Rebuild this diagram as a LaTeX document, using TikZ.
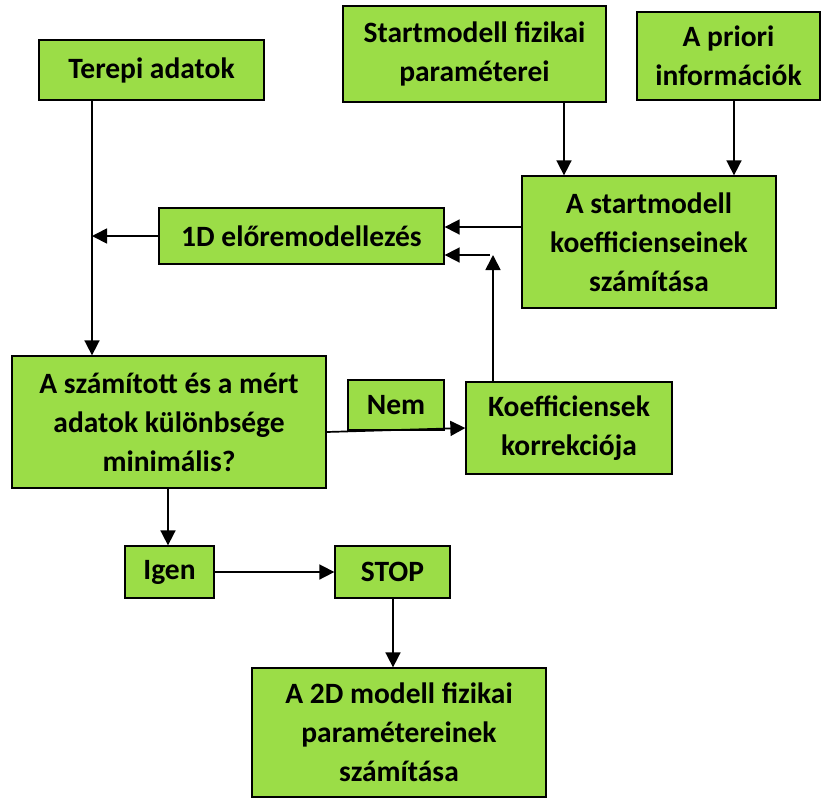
\documentclass[tikz,border=0pt]{standalone}
\usepackage{fontspec}
\setmainfont{Carlito}
\usetikzlibrary{arrows.meta}
\definecolor{boxgreen}{HTML}{9BDD47}
\tikzset{
  box/.style={draw=black, line width=1.3pt, fill=boxgreen, align=center,
    inner sep=0pt, font=\fontsize{29.5}{39}\selectfont\bfseries},
  arr/.style={line width=1.7pt, -{Triangle[length=15pt,width=15pt]}},
  ln/.style={line width=1.7pt}
}
\begin{document}
\begin{tikzpicture}[x=1pt,y=-1pt]
\useasboundingbox (0,0) rectangle (821,798);
\node[box, minimum width=225pt, minimum height=60pt] (terepi) at (151.5,70) {Terepi adatok};
\node[box, minimum width=263pt, minimum height=96pt] (start) at (474.5,54) {Startmodell fizikai\\paraméterei};
\node[box, minimum width=183pt, minimum height=88pt] (apriori) at (728.5,56) {A priori\\információk};
\node[box, minimum width=254pt, minimum height=132pt] (koefszam) at (649,242) {A startmodell\\koefficienseinek\\számítása};
\node[box, minimum width=285pt, minimum height=56pt] (oned) at (301.5,236) {1D előremodellezés};
\node[box, minimum width=314pt, minimum height=132pt] (kulonb) at (169,422) {A számított és a mért\\adatok különbsége\\minimális?};
\node[box, minimum width=96pt, minimum height=50pt] (nem) at (396,405) {Nem};
\node[box, minimum width=206pt, minimum height=92pt] (korr) at (569,428) {Koefficiensek\\korrekciója};
\node[box, minimum width=89pt, minimum height=52pt] (igen) at (169.5,572) {Igen};
\node[box, minimum width=115pt, minimum height=52pt] (stop) at (392.5,572) {STOP};
\node[box, minimum width=294pt, minimum height=129pt] (final) at (399,732.5) {A 2D modell fizikai\\paramétereinek\\számítása};

\coordinate (cx) at (92,0);
\coordinate (sx) at (564,0);
\coordinate (ax) at (734,0);
\coordinate (kx) at (493,0);
\coordinate (ky) at (0,255);
\coordinate (ty) at (0,227);
\coordinate (ny1) at (0,432);
\coordinate (ny2) at (0,428);
\coordinate (dx) at (168,0);
\coordinate (fx) at (393,0);

\draw[arr] (terepi.south -| cx) -- (kulonb.north -| cx);
\draw[arr] (oned.west) -- (oned.west -| cx);
\draw[arr] (start.south -| sx) -- (koefszam.north -| sx);
\draw[arr] (apriori.south -| ax) -- (koefszam.north -| ax);
\draw[arr] (koefszam.west |- ty) -- (oned.east |- ty);
\draw[arr] (korr.north -| kx) -- (kx |- ky);
\coordinate (corner) at (490,255);
\draw[arr] (corner) -- (oned.east |- corner);
\draw[arr] (kulonb.east |- ny1) -- (korr.west |- ny2);
\draw[arr] (kulonb.south -| dx) -- (igen.north -| dx);
\draw[arr] (igen.east) -- (stop.west);
\draw[arr] (stop.south -| fx) -- (final.north -| fx);
\end{tikzpicture}
\end{document}
